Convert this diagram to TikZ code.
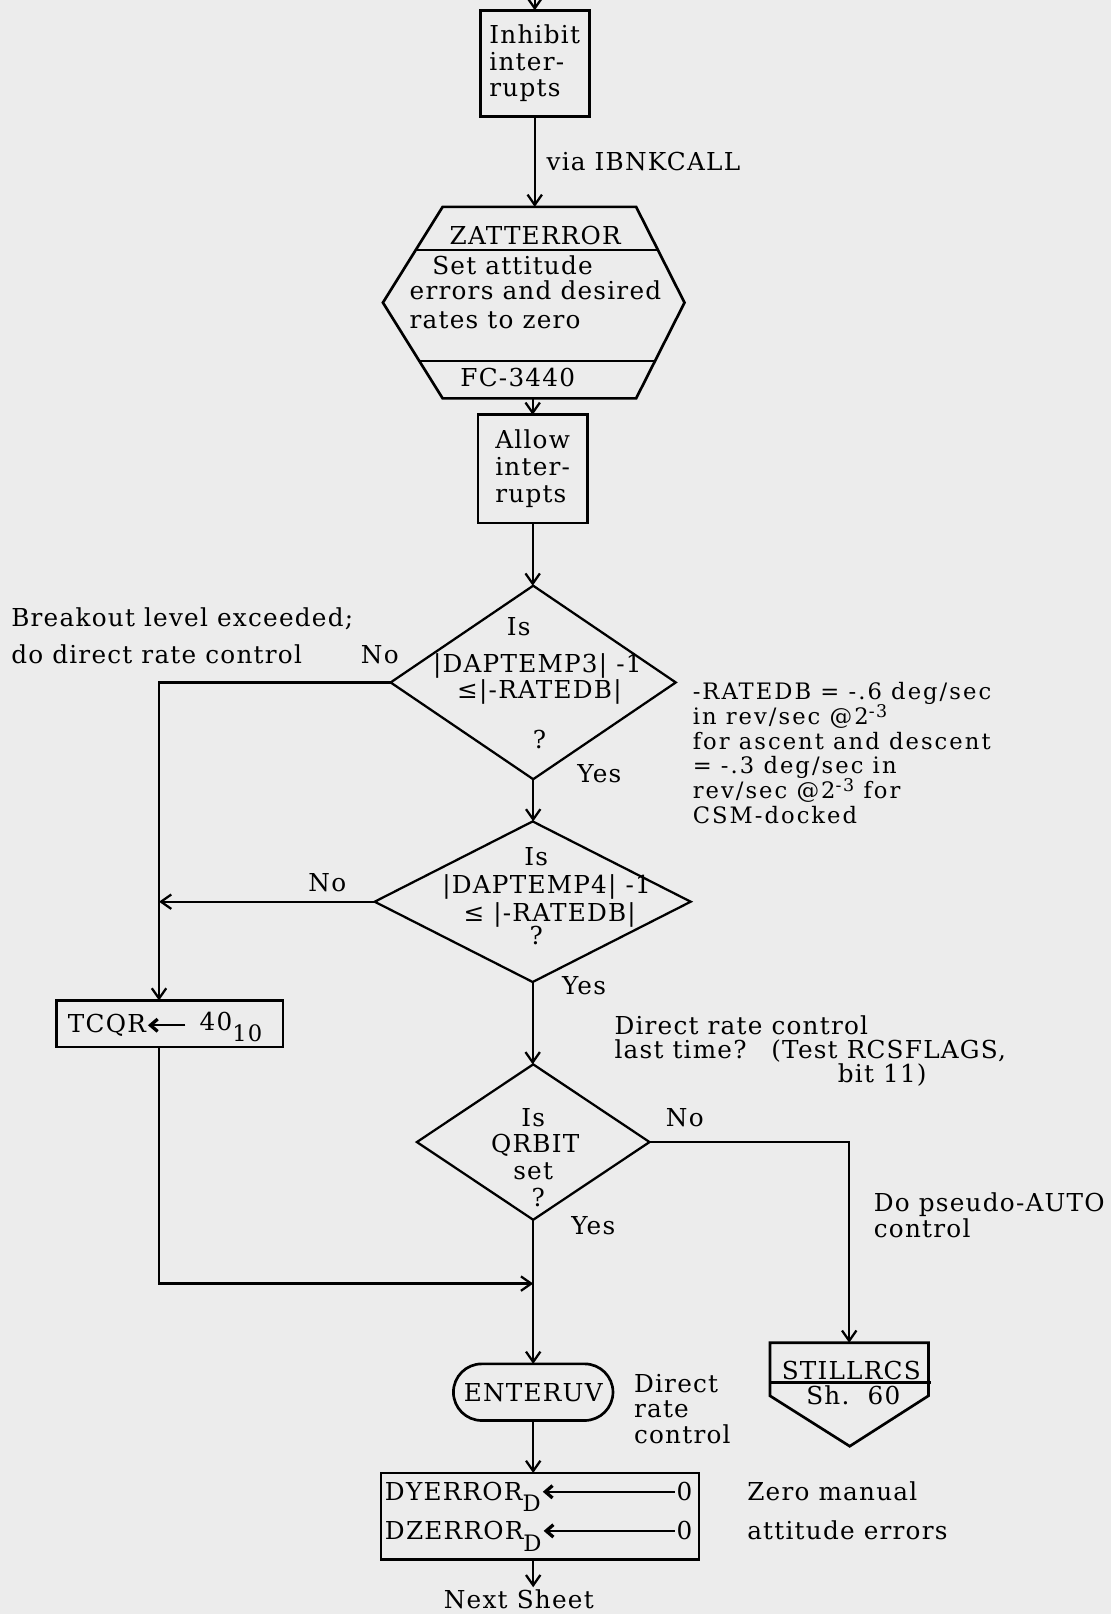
\documentclass[tikz,border=0pt]{standalone}
\usepackage{fontspec}
\setmainfont{DejaVu Serif}[LetterSpace=5]
\usetikzlibrary{arrows.meta,shapes.geometric,shapes.misc}
\definecolor{paper}{RGB}{236,236,236}
% raised exponent and lowered index that do not disturb line spacing
\newcommand\up[1]{\smash{\raisebox{0.3em}{\fontsize{8.5}{8.5}\selectfont #1}}}
\newcommand\dn[1]{\smash{\raisebox{-0.45em}{\fontsize{11}{11}\selectfont #1}}}

\begin{document}
\begin{tikzpicture}[x=0.5pt,y=-0.5pt,
  every node/.style={inner sep=0pt, outer sep=0pt},
  font=\fontsize{12}{13}\selectfont,
  ln/.style={line width=1.1pt},
  arr/.style={line width=1.1pt,-{Straight Barb[length=5pt,width=7pt]}},
  barb/.style={line width=1.2pt,-{Straight Barb[length=3.5pt,width=6pt,line width=1.6pt]}},
  box/.style={draw, line width=1.3pt, rectangle},
  dec/.style={draw, line width=1.1pt, diamond},
  lbl/.style={anchor=base},
  lblw/.style={anchor=base west},
  note/.style={font=\fontsize{11}{12}\selectfont\addfontfeature{LetterSpace=9}},
]
\fill[paper] (0,0) rectangle (1079,1568);
\useasboundingbox (0,0) rectangle (1079,1568);

% ---- inhibit interrupts
\coordinate (entry) at (519.5,0);
\node[box, minimum width=53pt, minimum height=51.5pt, align=left] (inh) at (519.5,61.5) {Inhibit\\inter-\\rupts};
\draw[arr] (entry) -- (entry |- inh.north);
\node[lblw] (via) at (531,166) {via IBNKCALL};

% ---- ZATTERROR hexagon
\node[minimum width=146.5pt, minimum height=93pt] (zat) at (518.5,294) {};
\draw[line width=1.3pt] (430,201) -- (618,201) -- (665,294) -- (618,387) -- (430,387) -- (372,294) -- cycle;
\draw[ln] (403.8,243) -- (639.2,243);
\draw[ln] (407.6,351) -- (636.2,351);
\node[lbl] (zatname) at (520,238) {ZATTERROR};
\node[lblw] (zat1) at (420,267) {Set attitude};
\node[lblw] (zat2) at (398,291) {errors and desired};
\node[lblw] (zat3) at (398,319) {rates to zero};
\node[lbl] (zatref) at (503,375) {FC-3440};
\draw[arr] (inh.south) -- (inh.south |- zat.north);

% ---- allow interrupts
\node[box, minimum width=53pt, minimum height=52.5pt, align=left] (alw) at (517.5,455.5) {Allow\\inter-\\rupts};
\draw[arr] (alw.north |- zat.south) -- (alw.north);

% ---- first test
\node[dec, minimum width=138.5pt, minimum height=94pt] (d1) at (518,663) {};
\draw[arr] (alw.south) -- (alw.south |- d1.north);
\node[lbl] (d1a) at (504,617) {Is};
\node[lbl] (d1b) at (522,653) {|DAPTEMP3| -1};
\node[lbl] (d1c) at (524,679) {≤|-RATEDB|};
\node[lbl] (d1d) at (524,727) {?};
\node[lbl] (no1) at (369,645) {No};
\node[lblw] (yes1) at (561,760) {Yes};
\node[lblw] (brk1) at (11,609) {Breakout level exceeded;};
\node[lblw] (brk2) at (11,645) {do direct rate control};
\node[note, anchor=north west, align=left] (rdb) at (673,663)
  {-RATEDB = -.6 deg/sec\\in rev/sec @2\up{-3}\\for ascent and descent\\= -.3 deg/sec in\\rev/sec @2\up{-3} for\\CSM-docked};

% ---- second test
\node[dec, minimum width=153.5pt, minimum height=78pt] (d2) at (517.5,876) {};
\draw[arr] (d1.south) -- (d1.south |- d2.north);
\node[lbl] (d2a) at (521,841) {Is};
\node[lbl] (d2b) at (531,868) {|DAPTEMP4| -1};
\node[lbl] (d2c) at (534,895) {≤ |-RATEDB|};
\node[lbl] (d2d) at (521,918) {?};
\node[lbl] (no2) at (318,866) {No};
\node[lblw] (yes2) at (546,966) {Yes};

% ---- TCQR box on the left branch
\node[box, minimum width=110pt, minimum height=22.5pt] (tcqr) at (165,994.5) {};
\node[lblw] (tcqrA) at (66,1003) {TCQR};
\node[lblw] (tcqrB) at (194,1001) {40\dn{10}};
\draw[barb, shorten <=7pt, shorten >=1pt] (tcqrB.west |- tcqrA.east) -- (tcqrA.east);

\coordinate (lc) at (154.5,663);
\coordinate (jn) at (518,1247);
\draw[arr] (d1.west) -- (lc) -- (lc |- tcqr.north);
\draw[arr] (d2.west) -- (d2.west -| lc);
\draw[arr] (tcqr.south -| lc) -- (lc |- jn) -- (jn);

% ---- third test
\node[dec, minimum width=113pt, minimum height=75.5pt] (d3) at (518,1109.5) {};
\draw[arr] (d2.south) -- (d2.south |- d3.north);
\node[lbl] (d3a) at (518,1094) {Is};
\node[lbl] (d3b) at (520,1120) {QRBIT};
\node[lbl] (d3c) at (518,1146) {set};
\node[lbl] (d3d) at (523,1172) {?};
\node[lblw] (no3) at (647,1094) {No};
\node[lblw] (yes3) at (555,1199) {Yes};
\node[lblw] (drc1) at (597,1005) {Direct rate control};
\node[lblw] (drc2) at (597,1028) {last time?\quad(Test RCSFLAGS,};
\node[lblw] (drc3) at (814,1052) {bit 11)};
\node[lblw] (pa1) at (849,1177) {Do pseudo-AUTO};
\node[lblw] (pa2) at (849,1202) {control};

% ---- off-page connector STILLRCS
\node[minimum width=77pt, minimum height=25.5pt] (still) at (825,1330) {};
\draw[line width=1.3pt] (748,1304.5) -- (902,1304.5) -- (902,1356) -- (825.5,1405) -- (748,1356) -- cycle;
\draw[ln] (748,1343) -- (904,1343);
\node[lbl] (stA) at (827,1340) {STILLRCS};
\node[lbl] (stB) at (829,1364) {Sh.\ \ 60};
\draw[arr] (d3.east) -| (still.north);

% ---- ENTERUV and zeroing box
\node[draw, rounded rectangle, line width=1.3pt, minimum width=77.5pt, minimum height=27.5pt] (ent) at (518,1352.5) {ENTERUV};
\draw[arr] (d3.south) -- (d3.south |- ent.north);
\node[lblw] (er1) at (616,1353) {Direct};
\node[lblw] (er2) at (616,1377) {rate};
\node[lblw] (er3) at (616,1402) {control};

\node[box, minimum width=154.5pt, minimum height=42pt] (dy) at (524.5,1473) {};
\draw[arr] (ent.south) -- (ent.south |- dy.north);
\node[lblw] (dyA) at (374,1458) {DYERROR\dn{D}};
\node[lbl] (dyA0) at (665,1458) {0};
\draw[barb, shorten <=1pt, shorten >=1pt] (dyA0.west) -- (dyA0.west -| dyA.east);
\node[lblw] (dzA) at (374,1496) {DZERROR\dn{D}};
\node[lbl] (dzA0) at (665,1496) {0};
\draw[barb, shorten <=1pt, shorten >=1pt] (dzA0.west) -- (dzA0.west -| dzA.east);
\node[lblw] (zm1) at (726,1458) {Zero manual};
\node[lblw] (zm2) at (726,1496) {attitude errors};

\coordinate (nx) at (518,1542);
\draw[arr] (dy.south -| ent.south) -- (nx);
\node[lbl] (next) at (504,1563) {Next Sheet};
\end{tikzpicture}
\end{document}
